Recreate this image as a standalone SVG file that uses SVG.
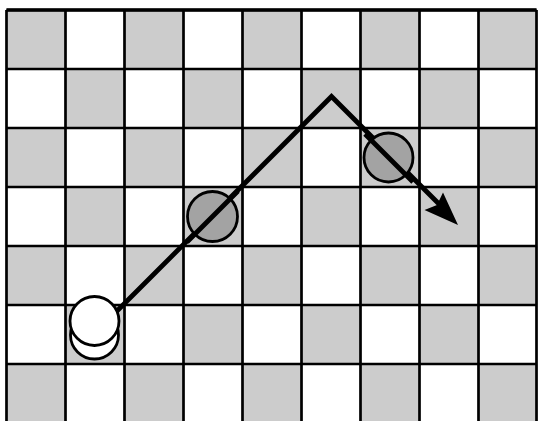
<svg xmlns="http://www.w3.org/2000/svg" width="538" height="421" viewBox="0 0 538 421">
<defs>
<style>
.g{fill:#cccccc}
.ln{stroke:#000;stroke-width:2.7;fill:none}
.w{fill:#fff;stroke:#000;stroke-width:2.8}
.d{fill:#a3a3a3;stroke:#000;stroke-width:2.8}
.path{stroke:#000;stroke-width:4.8;fill:none;stroke-linejoin:miter}
</style>
</defs>
<rect x="0" y="0" width="538" height="421" fill="#fff"/>
<g id="board">
<g id="cells">
<rect class="g" x="6.5" y="10" width="59" height="59"/>
<rect class="g" x="124.5" y="10" width="59" height="59"/>
<rect class="g" x="242.5" y="10" width="59" height="59"/>
<rect class="g" x="360.5" y="10" width="59" height="59"/>
<rect class="g" x="478.5" y="10" width="59" height="59"/>
<rect class="g" x="65.5" y="69" width="59" height="59"/>
<rect class="g" x="183.5" y="69" width="59" height="59"/>
<rect class="g" x="301.5" y="69" width="59" height="59"/>
<rect class="g" x="419.5" y="69" width="59" height="59"/>
<rect class="g" x="6.5" y="128" width="59" height="59"/>
<rect class="g" x="124.5" y="128" width="59" height="59"/>
<rect class="g" x="242.5" y="128" width="59" height="59"/>
<rect class="g" x="360.5" y="128" width="59" height="59"/>
<rect class="g" x="478.5" y="128" width="59" height="59"/>
<rect class="g" x="65.5" y="187" width="59" height="59"/>
<rect class="g" x="183.5" y="187" width="59" height="59"/>
<rect class="g" x="301.5" y="187" width="59" height="59"/>
<rect class="g" x="419.5" y="187" width="59" height="59"/>
<rect class="g" x="6.5" y="246" width="59" height="59"/>
<rect class="g" x="124.5" y="246" width="59" height="59"/>
<rect class="g" x="242.5" y="246" width="59" height="59"/>
<rect class="g" x="360.5" y="246" width="59" height="59"/>
<rect class="g" x="478.5" y="246" width="59" height="59"/>
<rect class="g" x="65.5" y="305" width="59" height="59"/>
<rect class="g" x="183.5" y="305" width="59" height="59"/>
<rect class="g" x="301.5" y="305" width="59" height="59"/>
<rect class="g" x="419.5" y="305" width="59" height="59"/>
<rect class="g" x="6.5" y="364" width="59" height="59"/>
<rect class="g" x="124.5" y="364" width="59" height="59"/>
<rect class="g" x="242.5" y="364" width="59" height="59"/>
<rect class="g" x="360.5" y="364" width="59" height="59"/>
<rect class="g" x="478.5" y="364" width="59" height="59"/>
</g>
<g id="gridlines" class="ln">
<path d="M6.5,10 V421 M65.5,10 V421 M124.5,10 V421 M183.5,10 V421 M242.5,10 V421 M301.5,10 V421 M360.5,10 V421 M419.5,10 V421 M478.5,10 V421 M536.5,10 V421"/>
<path d="M6.5,10 H536.5 M6.5,69 H536.5 M6.5,128 H536.5 M6.5,187 H536.5 M6.5,246 H536.5 M6.5,305 H536.5 M6.5,364 H536.5"/>
<path d="M6.5,10 H536.5" stroke-width="3.5"/>
</g>
</g>
<g id="piece-start">
<circle class="w" cx="94.5" cy="335" r="24"/>
<circle class="w" cx="94.5" cy="321" r="24.5"/>
</g>
<g id="connectors">
<path class="path" d="M116.5,311.5 L331.5,96.5 L440,205"/>
<polygon points="458,225 443,192.5 437,205 424.5,210" fill="#000"/>
</g>
<g id="piece-jumped-1">
<circle class="d" cx="212.5" cy="216.5" r="25"/>
</g>
<g id="piece-jumped-2">
<circle class="d" cx="388.5" cy="157.5" r="24.5"/>
</g>
<path class="path" d="M187,242 L238,191 M365,134 L413,182"/>
</svg>
